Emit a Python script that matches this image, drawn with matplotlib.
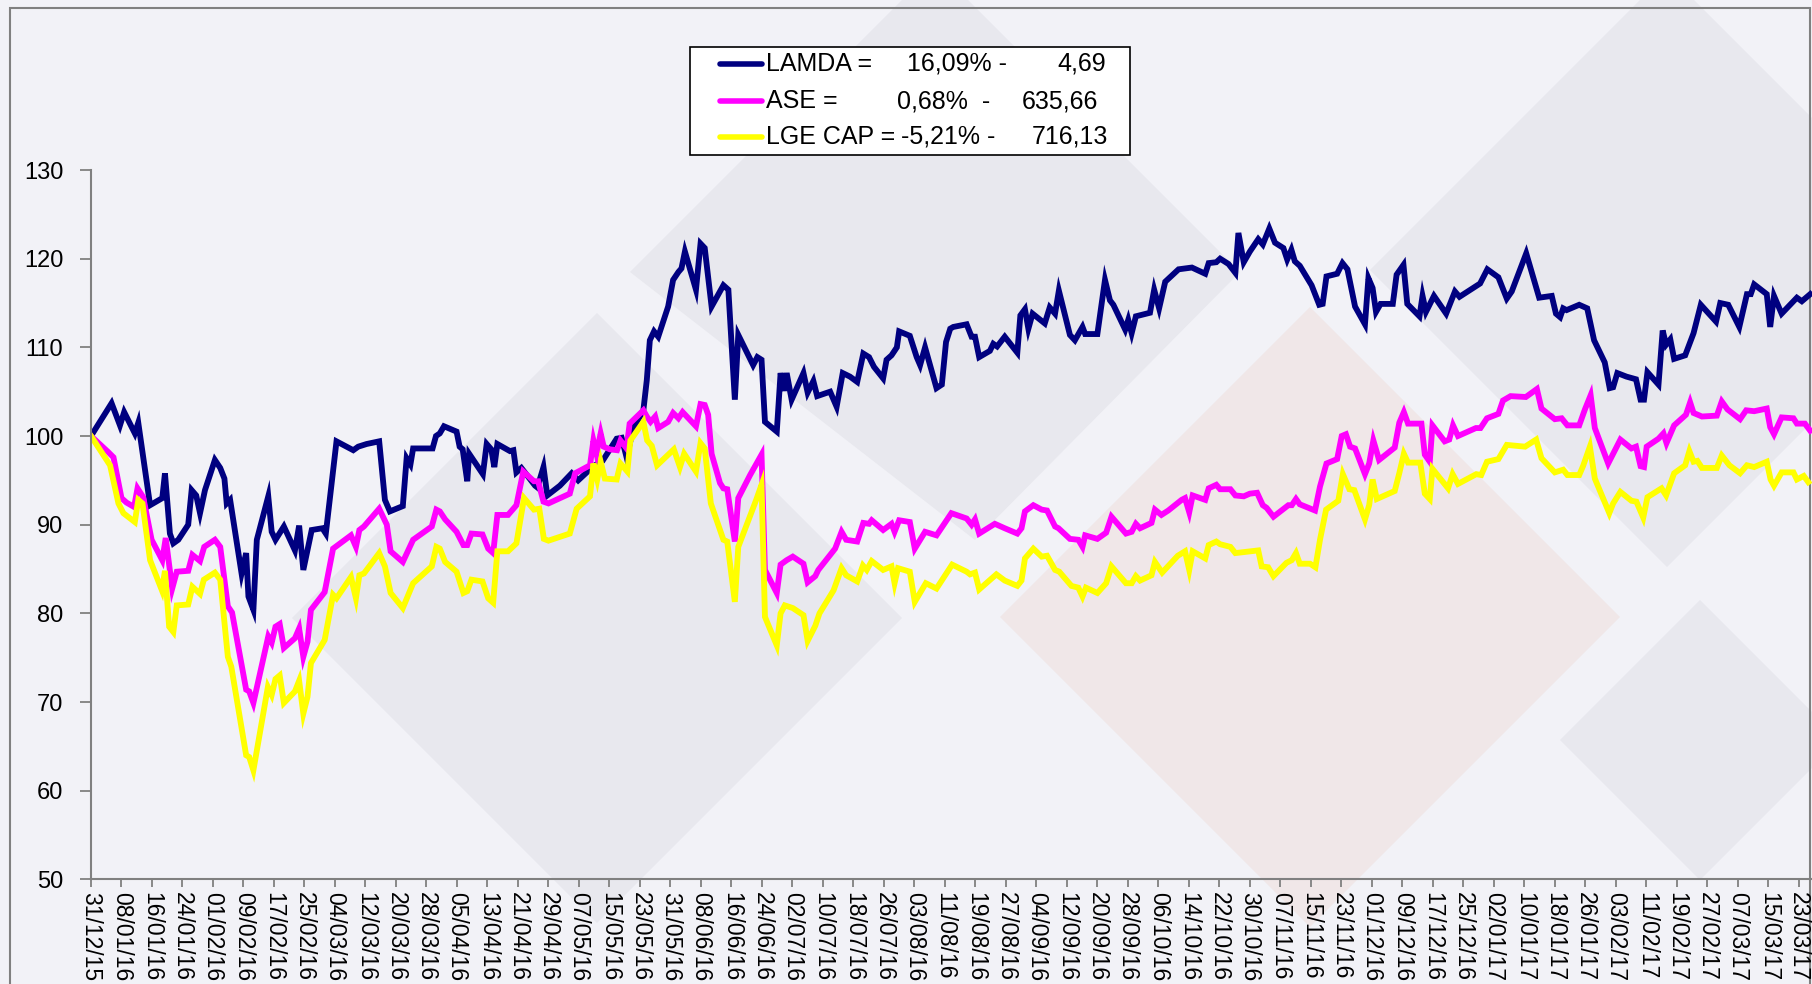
import datetime as dt
import matplotlib
matplotlib.use('Agg')
import matplotlib.pyplot as plt
import matplotlib.dates as mdates
from matplotlib.patches import Polygon, Rectangle
from matplotlib.lines import Line2D

plt.rcParams['font.family'] = ['Liberation Sans', 'DejaVu Sans']

# base 100 index, day offsets counted from 31/12/2015
start = dt.date(2015, 12, 31)

lamda_days = [0, 5.4, 7.6, 8.7, 11.5, 12.4, 15.5, 18.7, 19.4, 20.7, 21.6, 22.9, 25.5, 26.4, 27.6, 28.6,
              29.9, 32.5, 33.9, 35.0, 35.6, 36.5, 39.5, 40.7, 41.3, 42.6, 43.5, 46.5, 47.4, 48.4, 50.6,
              53.5, 54.6, 55.7, 57.9, 60.7, 61.6, 64.4, 68.8, 70.1, 72.3, 75.6, 77.1, 78.4, 81.8, 82.8,
              83.8, 84.5, 89.6, 90.5, 91.5, 92.6, 95.9, 96.7, 97.5, 98.7, 99.2, 102.8, 103.8, 105.0,
              105.8, 106.6, 109.9, 110.8, 111.6, 112.9, 116.5, 117.1, 118.7, 119.7, 123.0, 126.1, 127.8,
              131.8, 134.2, 137.9, 139.2, 140.5, 142.3, 144.9, 145.8, 146.6, 147.7, 148.8, 151.4, 152.7,
              154.1, 154.9, 155.8, 158.7, 159.9, 161.0, 162.8, 165.9, 167.2, 168.9, 169.8, 173.7, 174.8,
              175.9, 176.8, 179.9, 180.9, 181.8, 182.5, 183.8, 186.9, 188.0, 189.5, 190.5, 193.9, 195.6,
              197.2, 199.1, 201.0, 202.6, 204.1, 205.4, 207.8, 208.7, 210.0, 211.4, 212.0, 214.8, 216.6,
              217.5, 218.8, 221.8, 223.2, 224.3, 225.4, 226.2, 229.7, 231.0, 231.9, 233.0, 235.8, 236.7,
              237.7, 239.7, 243.0, 243.8, 245.0, 245.9, 247.0, 250.2, 251.5, 252.9, 253.9, 256.8, 258.1,
              260.1, 260.8, 264.0, 266.0, 267.3, 268.2, 271.3, 272.1, 273.0, 274.1, 277.8, 278.9, 280.2,
              281.8, 285.3, 288.8, 292.3, 293.2, 295.2, 296.2, 298.4, 300.2, 301.0, 302.4, 304.0, 306.2,
              307.4, 309.1, 310.6, 312.8, 313.8, 314.9, 315.8, 317.1, 320.2, 322.2, 323.1, 324.1, 326.9,
              328.3, 329.6, 331.6, 334.2, 335.1, 336.2, 337.1, 338.3, 341.5, 342.5, 344.3, 345.3, 348.5,
              349.3, 350.2, 352.3, 355.5, 357.8, 359.0, 364.4, 366.3, 369.2, 371.4, 372.7, 376.5, 379.9,
              383.2, 384.3, 385.4, 386.2, 387.1, 390.4, 392.5, 394.3, 397.1, 398.4, 399.3, 400.4, 402.8,
              405.3, 406.5, 407.4, 408.3, 411.2, 412.3, 413.2, 414.3, 415.3, 418.2, 420.4, 422.3, 426.3,
              427.4, 429.5, 432.4, 434.4, 435.4, 436.3, 439.6, 440.5, 441.5, 443.5, 447.5, 448.8, 451.0]
lamda = [100.0, 103.7, 101.2, 102.7, 100.3, 101.5, 92.2, 93.0, 95.8, 89.0, 87.9, 88.3, 90.0, 93.9, 93.3, 91.3,
         93.9, 97.3, 96.4, 95.2, 92.4, 92.8, 84.5, 86.8, 81.9, 80.4, 88.3, 93.2, 89.2, 88.3, 89.8,
         87.1, 89.9, 84.9, 89.4, 89.6, 89.0, 99.4, 98.4, 98.8, 99.1, 99.4, 92.8, 91.5, 92.1, 97.5,
         96.8, 98.6, 98.6, 100.0, 100.3, 101.1, 100.5, 98.8, 98.5, 94.9, 98.0, 95.7, 99.1, 98.5,
         96.5, 99.1, 98.3, 98.4, 95.9, 96.4, 94.4, 94.2, 96.5, 93.3, 94.4, 95.8, 95.0,
         96.6, 97.2, 99.7, 99.8, 97.6, 100.9, 102.9, 106.3, 110.8, 111.8, 111.2, 114.6, 117.6,
         118.5, 118.9, 120.8, 116.5, 121.7, 121.2, 114.6, 117.0, 116.5, 104.1, 111.4, 108.0, 108.9,
         108.6, 101.6, 100.5, 107.1, 105.1, 107.1, 104.1, 107.1, 104.9, 106.2, 104.5, 105.0, 103.3,
         107.1, 106.7, 106.1, 109.3, 108.9, 107.8, 106.5, 108.6, 109.1, 110.0, 111.8, 111.3, 108.9,
         108.0, 110.0, 105.4, 105.8, 110.6, 112.1, 112.3, 112.6, 111.2, 111.2, 108.9, 109.6, 110.4,
         110.1, 111.2, 109.4, 113.6, 114.3, 112.1, 113.8, 112.7, 114.5, 113.8, 116.4, 111.4, 110.8,
         112.3, 111.5, 111.5, 117.6, 115.3, 114.8, 112.0, 113.1, 111.6, 113.5, 113.9, 116.5, 114.4,
         117.4, 118.8, 119.0, 118.3, 119.5, 119.6, 120.0, 119.4, 118.4, 122.9, 119.6, 120.8, 122.2,
         121.6, 123.4, 121.8, 121.2, 119.9, 121.0, 119.7, 119.2, 117.0, 114.8, 114.9, 118.0, 118.3,
         119.5, 118.8, 114.6, 112.6, 117.8, 116.7, 114.0, 114.9, 114.9, 118.2, 119.3, 114.9, 113.5,
         115.8, 114.0, 115.8, 113.8, 116.3, 115.7, 117.2, 118.8, 117.9, 115.5, 116.3, 120.6, 115.6,
         115.8, 113.8, 113.4, 114.4, 114.2, 114.8, 114.4, 110.8, 108.3, 105.4, 105.5, 107.1, 106.7,
         106.4, 104.1, 104.1, 107.2, 105.8, 111.9, 110.3, 110.9, 108.7, 109.1, 111.6, 114.8, 112.9,
         115.0, 114.8, 112.3, 116.0, 116.0, 117.1, 116.0, 112.3, 115.8, 113.8, 115.6, 115.2, 116.0]

ase_days = [0, 4.5, 5.9, 8.0, 9.3, 11.3, 12.2, 13.7, 15.9, 18.7, 19.6, 21.3, 22.5, 25.5, 26.6, 28.6, 29.7,
            32.5, 33.9, 35.9, 37.0, 40.7, 41.5, 42.6, 46.5, 47.4, 48.4, 49.5, 50.6, 53.5, 54.6, 55.7,
            56.8, 57.7, 61.3, 63.5, 68.2, 69.5, 70.4, 71.6, 75.6, 77.6, 78.6, 81.8, 84.5, 89.4, 90.6,
            91.5, 92.9, 95.9, 97.7, 98.7, 99.8, 102.7, 104.2, 105.5, 106.6, 109.4, 111.6, 113.4, 116.2,
            117.3, 118.7, 120.0, 125.6, 127.0, 130.9, 131.8, 132.6, 133.7, 134.5, 136.1, 138.0, 138.9,
            140.5, 141.3, 144.9, 145.8, 146.8, 148.0, 148.8, 151.4, 152.7, 154.1, 155.2, 158.7, 159.9,
            161.0, 161.9, 162.8, 165.0, 165.9, 166.9, 168.9, 169.8, 172.9, 174.6, 175.9, 176.8, 179.9,
            180.9, 182.5, 184.1, 186.9, 188.0, 190.0, 190.8, 195.2, 196.9, 198.1, 201.0, 202.6, 204.1,
            204.8, 207.8, 210.0, 210.8, 212.0, 214.8, 216.1, 218.8, 221.8, 225.7, 229.7, 231.0, 231.9,
            233.0, 237.1, 239.7, 243.0, 244.1, 245.0, 247.2, 249.4, 250.8, 252.9, 253.8, 256.8, 259.0,
            260.1, 260.8, 264.0, 266.3, 267.7, 271.5, 273.0, 274.1, 275.2, 278.2, 279.1, 280.8, 282.6,
            286.1, 287.0, 288.1, 289.0, 292.3, 293.2, 295.2, 296.2, 298.9, 300.2, 302.4, 304.0, 305.9,
            307.4, 308.4, 310.2, 314.1, 315.0, 316.1, 317.1, 321.1, 322.4, 324.1, 326.9, 328.1, 329.2,
            330.3, 331.6, 334.2, 335.3, 336.4, 337.9, 342.0, 343.2, 344.4, 345.5, 349.0, 349.9, 351.2,
            351.9, 355.1, 356.3, 357.3, 358.6, 363.3, 364.5, 366.2, 369.2, 370.4, 372.4, 376.4, 379.3,
            380.5, 384.0, 385.8, 387.3, 390.4, 391.9, 393.4, 394.5, 398.0, 399.3, 401.2, 404.1, 405.3,
            406.5, 407.4, 408.1, 411.2, 412.5, 413.3, 415.3, 418.4, 419.5, 420.4, 422.6, 426.5, 427.8,
            429.3, 432.6, 434.2, 436.3, 439.6, 440.5, 441.5, 443.5, 446.6, 447.5, 449.6, 451.0]
ase = [100.0, 98.2, 97.6, 93.0, 92.5, 92.0, 94.1, 93.1, 88.3, 86.0, 88.5, 82.8, 84.7, 84.8, 86.6, 85.9, 87.5,
       88.3, 87.5, 80.8, 80.1, 71.4, 71.2, 69.9, 77.4, 76.7, 78.5, 78.8, 76.1, 77.2, 78.3, 75.1,
       76.8, 80.4, 82.4, 87.3, 88.8, 87.5, 89.4, 89.8, 91.8, 90.0, 87.0, 85.8, 88.3, 89.8, 91.7,
       91.5, 90.6, 89.2, 87.7, 87.7, 89.0, 88.9, 87.3, 86.8, 91.1, 91.1, 92.2, 96.0, 94.9,
       94.9, 92.6, 92.4, 93.5, 95.8, 96.7, 99.5, 98.0, 100.3, 98.8, 98.5, 98.4, 99.5,
       98.6, 101.4, 102.9, 102.2, 101.6, 102.2, 100.9, 101.6, 102.6, 102.0, 102.7, 101.1, 103.6,
       103.5, 102.4, 98.0, 94.7, 94.1, 94.0, 88.1, 93.0, 95.6, 96.9, 97.9, 84.9, 82.3,
       85.5, 86.0, 86.4, 85.6, 83.5, 84.2, 84.9, 87.3, 89.2, 88.3, 88.1, 90.2, 90.1,
       90.5, 89.4, 90.1, 89.2, 90.5, 90.3, 87.3, 89.2, 88.8, 91.3, 90.7, 90.0, 90.6,
       89.0, 90.1, 89.6, 89.0, 89.6, 91.5, 92.2, 91.7, 91.6, 89.8, 89.6, 88.4, 88.3,
       87.5, 88.8, 88.4, 89.1, 90.9, 89.0, 89.2, 90.1, 89.6, 90.2, 91.7, 91.1, 91.6,
       92.8, 93.0, 91.4, 93.3, 92.8, 94.1, 94.5, 94.0, 94.0, 93.3, 93.2, 93.5, 93.6,
       92.2, 91.9, 90.9, 92.2, 92.2, 92.9, 92.3, 91.6, 94.3, 96.9, 97.4, 100.0, 100.2,
       98.8, 98.6, 95.7, 96.9, 99.5, 97.3, 98.7, 101.5, 102.7, 101.4, 101.4, 97.9, 97.1,
       101.2, 99.4, 99.6, 101.2, 100.0, 100.9, 100.9, 102.0, 102.5, 104.0, 104.5, 104.4, 105.3,
       103.1, 101.9, 102.0, 101.2, 101.2, 103.0, 104.6, 100.9, 96.9, 98.0, 99.6, 98.6, 98.8,
       96.6, 96.5, 98.8, 99.7, 100.3, 99.2, 101.2, 102.4, 103.8, 102.6, 102.2, 102.3, 103.9,
       103.0, 101.9, 102.9, 102.8, 103.1, 101.0, 100.2, 102.1, 102.0, 101.4, 101.4, 100.6]

lge_days = [0, 5.0, 7.2, 8.5, 11.5, 12.4, 13.5, 15.5, 18.6, 19.4, 20.5, 21.6, 22.5, 25.5, 26.6, 28.6, 29.6,
            32.5, 33.9, 35.9, 36.8, 40.7, 41.5, 42.6, 46.4, 47.4, 48.4, 49.5, 50.6, 53.5, 54.6, 55.7,
            56.8, 57.7, 61.3, 63.5, 64.4, 68.2, 69.5, 70.4, 71.6, 75.6, 77.1, 78.6, 81.8, 84.5, 89.4,
            90.6, 91.5, 92.9, 95.9, 97.7, 98.7, 99.8, 102.7, 104.2, 105.5, 106.6, 109.4, 111.6, 113.6,
            116.2, 117.6, 118.8, 120.0, 125.6, 127.4, 130.9, 131.8, 132.8, 133.7, 134.8, 137.9, 138.9,
            140.7, 141.5, 144.9, 145.9, 147.1, 148.5, 152.9, 154.5, 155.6, 158.7, 159.9, 161.0, 162.6,
            165.9, 166.9, 168.9, 169.8, 174.5, 175.9, 176.8, 179.9, 180.9, 182.0, 184.1, 186.9, 188.0,
            190.0, 191.1, 194.8, 196.9, 198.1, 201.0, 202.5, 203.5, 204.8, 207.8, 210.0, 210.8, 211.7,
            214.8, 216.1, 219.0, 221.8, 225.9, 229.7, 230.6, 231.9, 233.0, 237.5, 239.7, 243.0, 244.1,
            245.0, 247.2, 249.4, 250.8, 252.9, 254.0, 257.2, 259.0, 260.1, 261.0, 264.0, 266.3, 267.7,
            271.5, 273.0, 274.1, 275.2, 278.2, 279.1, 281.0, 285.1, 287.0, 288.1, 289.0, 292.3, 293.2,
            295.2, 296.2, 298.9, 300.2, 306.2, 307.1, 308.8, 310.2, 313.6, 315.0, 316.1, 317.1, 319.8,
            321.2, 322.4, 324.0, 327.2, 328.4, 330.1, 331.4, 334.2, 335.3, 336.2, 337.3, 342.0, 343.2,
            344.4, 345.5, 348.7, 349.9, 351.2, 351.9, 356.0, 357.2, 358.6, 363.4, 364.7, 366.2, 369.2,
            371.4, 376.2, 379.1, 380.5, 384.0, 386.2, 387.3, 390.4, 391.4, 393.2, 394.5, 398.3, 399.3,
            401.2, 404.1, 405.4, 407.2, 408.3, 412.0, 413.2, 415.3, 418.2, 419.3, 420.4, 421.4, 422.6,
            426.5, 427.8, 429.8, 432.6, 434.4, 436.3, 439.6, 440.6, 441.5, 443.5, 446.6, 447.5, 449.3,
            450.5]
lge = [100.0, 96.7, 92.4, 91.3, 90.3, 92.8, 92.4, 86.0, 82.6, 84.8, 78.5, 77.9, 80.9, 81.0, 83.0, 82.2, 83.8,
       84.6, 83.8, 75.1, 74.0, 64.0, 63.8, 62.3, 71.7, 70.8, 72.6, 73.0, 69.9, 71.2, 72.4, 68.7,
       70.6, 74.4, 77.0, 82.1, 81.7, 84.1, 81.7, 84.3, 84.5, 86.8, 85.3, 82.3, 80.6, 83.4, 85.3,
       87.5, 87.3, 85.8, 84.7, 82.3, 82.5, 83.8, 83.6, 81.7, 81.2, 87.0, 87.0, 87.9, 93.0,
       91.7, 91.8, 88.4, 88.2, 89.0, 91.8, 93.2, 96.9, 95.1, 97.1, 95.2, 95.1, 96.9,
       96.0, 99.5, 101.6, 99.5, 98.9, 96.7, 98.5, 96.5, 98.0, 96.0, 99.2, 98.6, 92.4,
       88.3, 88.1, 81.3, 87.5, 92.8, 94.5, 79.6, 76.4, 80.0, 80.9, 80.6, 79.8, 76.9,
       78.6, 80.0, 82.6, 85.1, 84.3, 83.6, 85.4, 84.9, 85.9, 84.9, 85.3, 83.4, 85.1,
       84.7, 81.3, 83.4, 82.8, 85.5, 84.7, 84.4, 84.6, 82.7, 84.4, 83.7, 83.1, 83.7,
       86.2, 87.3, 86.4, 86.5, 84.9, 84.7, 83.1, 82.9, 81.9, 82.9, 82.3, 83.4, 85.3,
       83.4, 83.4, 84.2, 83.7, 84.3, 85.8, 84.6, 86.5, 87.0, 84.9, 87.0, 86.2, 87.7,
       88.1, 87.8, 87.5, 86.8, 87.1, 85.3, 85.2, 84.2, 85.7, 86.0, 86.8, 85.6, 85.6,
       85.2, 88.3, 91.7, 92.7, 95.7, 94.0, 93.9, 90.6, 92.2, 95.1, 92.9, 93.8, 95.8,
       98.0, 97.0, 97.0, 93.5, 92.9, 96.3, 94.1, 95.7, 94.6, 95.7, 95.6, 97.1, 97.4,
       99.0, 98.8, 99.6, 97.5, 95.9, 96.2, 95.6, 95.6, 96.6, 98.8, 95.2, 91.3, 92.4,
       93.7, 92.7, 92.6, 90.8, 93.1, 94.1, 93.3, 95.8, 96.7, 98.3, 97.1, 97.2, 96.4,
       96.4, 97.8, 96.7, 95.8, 96.7, 96.5, 97.1, 95.1, 94.4, 95.9, 95.9, 95.1, 95.5,
       94.8]

names = ['LAMDA =', 'ASE =', 'LGE CAP =']
changes = ['16,09% -', '0,68%  -', '-5,21% -']
last_values = ['4,69', '635,66', '716,13']
colors = ['#000080', '#FF00FF', '#FFFF00']

W, H = 1812, 984
bg = '#F2F2F7'


def fx(px):
    return px / W


def fy(py):
    return 1 - py / H


fig = plt.figure(figsize=(W / 100, H / 100), dpi=100, facecolor=bg)

# faint logo watermark behind the chart (pixel coords, y down)
shapes = [
    ('#E8E8EE', [(597, 313), (292, 618), (597, 923), (902, 618)]),
    ('#E8E8EE', [(630, 272), (935, -33), (1240, 272), (975, 540)]),
    ('#E8E8EE', [(1370, 270), (1667, -27), (1964, 270), (1667, 567)]),
    ('#F0E7E8', [(1310, 307), (1000, 617), (1310, 927), (1620, 617)]),
    ('#E8E8EE', [(1700, 600), (1560, 740), (1700, 880), (1840, 740)]),
]
for col, pts in shapes:
    fig.patches.append(Polygon([(fx(x), fy(y)) for x, y in pts], closed=True, fc=col, ec='none',
                               transform=fig.transFigure, zorder=-3))

# outer chart border
fig.patches.append(Rectangle((fx(10), fy(1000)), fx(1800), (1000 - 8) / H, fill=False,
                             ec='#808080', lw=1.5, transform=fig.transFigure, zorder=-2))

ax = fig.add_axes([fx(91), fy(879.4), fx(W - 91), (879.4 - 170) / H])
ax.set_facecolor('none')
ax.set_zorder(1)

d0 = mdates.date2num(start)
for days, vals, col in [(lamda_days, lamda, colors[0]), (ase_days, ase, colors[1]), (lge_days, lge, colors[2])]:
    ax.plot([d0 + d for d in days], vals, c=col, lw=4.2, solid_joinstyle='miter')

ax.set_ylim(50, 130)
ax.set_yticks(range(50, 131, 10))
ax.set_xlim(d0, d0 + (W - 91) / 3.812)
ax.set_xticks([d0 + k for k in range(0, 449, 8)])
ax.xaxis.set_major_formatter(mdates.DateFormatter('%d/%m/%y'))
ax.tick_params(axis='x', labelsize=16.5, length=6, width=1.3, color='#808080', pad=3)
ax.tick_params(axis='y', labelsize=17, length=8, width=1.3, color='#808080', pad=12)
for lab in ax.get_xticklabels():
    lab.set_rotation(-90)
    lab.set_va('top')
    lab.set_ha('center')
for s in ['top', 'right']:
    ax.spines[s].set_visible(False)
for s in ['left', 'bottom']:
    ax.spines[s].set_color('#808080')
    ax.spines[s].set_linewidth(1.5)

# legend box
fig.patches.append(Rectangle((fx(690), fy(155)), fx(440), 108 / H, fc='white', ec='black', lw=1.2,
                             transform=fig.transFigure, zorder=3))
rows = [64, 101, 137]
pct_x = [1007, 990, 995]
val_x = [1106, 1098, 1108]
for i in range(3):
    fig.add_artist(Line2D([fx(720), fx(762)], [fy(rows[i]), fy(rows[i])], color=colors[i], lw=4,
                          solid_capstyle='round', transform=fig.transFigure, zorder=4))
    fig.text(fx(766), fy(rows[i]), names[i], fontsize=18, ha='left', va='center', zorder=5)
    fig.text(fx(pct_x[i]), fy(rows[i]), changes[i], fontsize=18, ha='right', va='center', zorder=5)
    fig.text(fx(val_x[i]), fy(rows[i]), last_values[i], fontsize=18, ha='right', va='center', zorder=5)

fig.savefig('out.png', dpi=100, facecolor=bg)
